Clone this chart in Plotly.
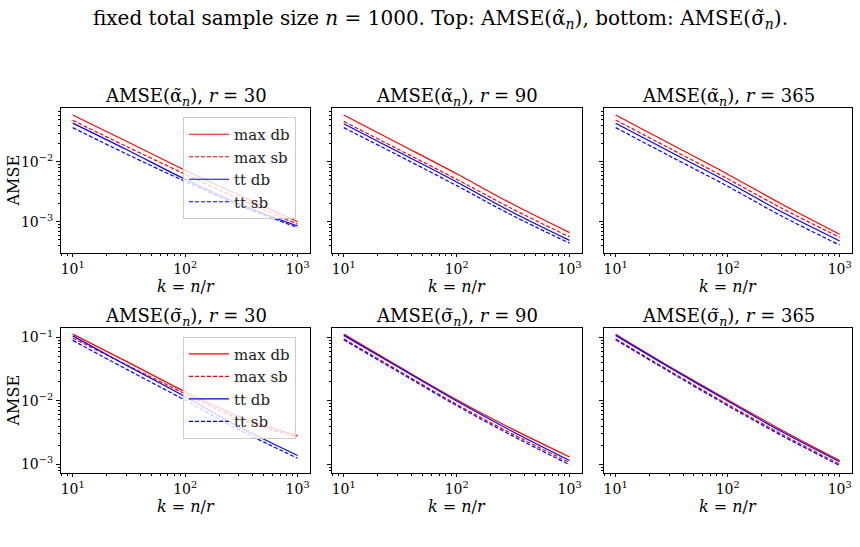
import plotly.graph_objects as go
from plotly.subplots import make_subplots

# k = n/r grid
k = [10, 30, 100, 300, 1000]

series_names = ["max db", "max sb", "tt db", "tt sb"]
colors = ["#ff0000", "#ff0000", "#0000ff", "#0000ff"]
dashes = ["solid", "4px,2px", "solid", "4px,2px"]

# AMSE(alpha~_n)
alpha_r30 = {
    "max db": [0.060, 0.022, 0.0072, 0.0028, 0.00100],
    "max sb": [0.049, 0.018, 0.0062, 0.0024, 0.00091],
    "tt db":  [0.044, 0.016, 0.0051, 0.0020, 0.00085],
    "tt sb":  [0.037, 0.0135, 0.0047, 0.0019, 0.00080],
}
alpha_r90 = {
    "max db": [0.060, 0.0205, 0.0063, 0.00205, 0.00066],
    "max sb": [0.047, 0.0163, 0.0051, 0.0017, 0.00056],
    "tt db":  [0.043, 0.0148, 0.0046, 0.0015, 0.00049],
    "tt sb":  [0.037, 0.0129, 0.0040, 0.00132, 0.00044],
}
alpha_r365 = {
    "max db": [0.060, 0.0203, 0.0062, 0.0020, 0.00062],
    "max sb": [0.0495, 0.0169, 0.0052, 0.0017, 0.00055],
    "tt db":  [0.0437, 0.0149, 0.0046, 0.00148, 0.00048],
    "tt sb":  [0.037, 0.0126, 0.0039, 0.00126, 0.00041],
}
# AMSE(sigma~_n)
sigma_r30 = {
    "max db": [0.113, 0.042, 0.0139, 0.0057, 0.0028],
    "max sb": [0.098, 0.037, 0.0129, 0.0052, 0.00267],
    "tt db":  [0.106, 0.0365, 0.0116, 0.0039, 0.00137],
    "tt sb":  [0.090, 0.0316, 0.0102, 0.0035, 0.00124],
}
sigma_r90 = {
    "max db": [0.113, 0.0357, 0.0104, 0.0037, 0.00130],
    "max sb": [0.0955, 0.0305, 0.0088, 0.0031, 0.00106],
    "tt db":  [0.108, 0.0345, 0.0099, 0.0034, 0.00114],
    "tt sb":  [0.092, 0.0292, 0.0084, 0.0029, 0.00098],
}
sigma_r365 = {
    "max db": [0.113, 0.0352, 0.0104, 0.0035, 0.00114],
    "max sb": [0.0955, 0.0300, 0.0088, 0.0030, 0.00100],
    "tt db":  [0.108, 0.0340, 0.0099, 0.0033, 0.00109],
    "tt sb":  [0.092, 0.0290, 0.0084, 0.00285, 0.00095],
}

x_tickvals = [10, 100, 1000]
x_ticktext = ["10<sup>1</sup>", "10<sup>2</sup>", "10<sup>3</sup>"]
y_tickvals = [1e-3, 1e-2, 1e-1]
y_ticktext = ["10<sup>−3</sup>", "10<sup>−2</sup>", "10<sup>−1</sup>"]

A = "α\u0303"
S = "σ\u0303"
panels = [
    (1, 1, alpha_r30, f"AMSE({A}<sub><i>n</i></sub>), <i>r</i> = 30", "legend"),
    (1, 2, alpha_r90, f"AMSE({A}<sub><i>n</i></sub>), <i>r</i> = 90", None),
    (1, 3, alpha_r365, f"AMSE({A}<sub><i>n</i></sub>), <i>r</i> = 365", None),
    (2, 1, sigma_r30, f"AMSE({S}<sub><i>n</i></sub>), <i>r</i> = 30", "legend2"),
    (2, 2, sigma_r90, f"AMSE({S}<sub><i>n</i></sub>), <i>r</i> = 90", None),
    (2, 3, sigma_r365, f"AMSE({S}<sub><i>n</i></sub>), <i>r</i> = 365", None),
]

FONT = "DejaVu Serif"
W, H = 860, 547

fig = make_subplots(rows=2, cols=3)

xdom = [(61, 310), (332, 582), (604, 852)]
ydom = [(108, 253), (328, 473)]

for (row, col, data, title, leg) in panels:
    for name, c, d in zip(series_names, colors, dashes):
        fig.add_trace(
            go.Scatter(
                x=k, y=data[name], mode="lines", name=name,
                line=dict(color=c, width=1.2, dash=d, shape="spline", smoothing=1),
                showlegend=leg is not None,
                legend=leg if leg else "legend",
            ),
            row=row, col=col,
        )
    x0, x1 = xdom[col - 1]
    y0, y1 = ydom[row - 1]
    fig.add_annotation(
        text=title, x=(x0 + x1) / 2 / W, y=1 - (y0 - 11) / H,
        xref="paper", yref="paper", showarrow=False,
        font=dict(family=FONT, size=18, color="black"),
        xanchor="center", yanchor="middle",
    )
    fig.add_annotation(
        text="<i>k</i> = <i>n</i>/<i>r</i>", x=(x0 + x1) / 2 / W, y=1 - (y1 + 33) / H,
        xref="paper", yref="paper", showarrow=False,
        font=dict(family=FONT, size=16, color="black"),
        xanchor="center", yanchor="middle",
    )

yranges = [(-3.52, -1.105), (-3.14, -0.85)]

minor_x = [m * 10 ** e for e in (0, 1, 2, 3) for m in range(2, 10)]
minor_y = [m * 10.0 ** e for e in (-4, -3, -2, -1) for m in range(2, 10)]

for row in (1, 2):
    for col in (1, 2, 3):
        x0, x1 = xdom[col - 1]
        y0, y1 = ydom[row - 1]
        fig.update_xaxes(
            type="log", range=[0.896, 3.11], domain=[x0 / W, x1 / W],
            showline=True, mirror=True, linecolor="black", linewidth=1,
            ticks="outside", ticklen=3, tickcolor="black",
            showgrid=False, zeroline=False,
            tickmode="array", tickvals=x_tickvals, ticktext=x_ticktext,
            minor=dict(ticks="outside", ticklen=2, tickcolor="black", showgrid=False,
                       tickmode="array", tickvals=minor_x),
            tickfont=dict(family=FONT, size=14, color="black"),
            row=row, col=col,
        )
        fig.update_yaxes(
            type="log", range=list(yranges[row - 1]), domain=[1 - y1 / H, 1 - y0 / H],
            showline=True, mirror=True, linecolor="black", linewidth=1,
            ticks="outside", ticklen=4, tickcolor="black",
            showgrid=False, zeroline=False,
            tickmode="array", tickvals=y_tickvals, ticktext=y_ticktext,
            showticklabels=(col == 1),
            minor=dict(ticks="outside", ticklen=2, tickcolor="black", showgrid=False,
                       tickmode="array", tickvals=minor_y),
            tickfont=dict(family=FONT, size=14, color="black"),
            row=row, col=col,
        )
        if col == 1:
            fig.add_annotation(
                text="AMSE", x=13 / W, y=1 - (y0 + y1) / 2 / H,
                xref="paper", yref="paper", showarrow=False, textangle=-90,
                font=dict(family=FONT, size=16, color="black"),
                xanchor="center", yanchor="middle",
            )

fig.add_annotation(
    text=f"fixed total sample size <i>n</i> = 1000. Top: AMSE({A}<sub><i>n</i></sub>), bottom: AMSE({S}<sub><i>n</i></sub>).",
    x=440 / W, y=1 - 19 / H, xref="paper", yref="paper", showarrow=False,
    font=dict(family=FONT, size=20, color="black"), xanchor="center", yanchor="middle",
)

leg_common = dict(
    bgcolor="rgba(255,255,255,0.8)", bordercolor="#cccccc", borderwidth=1,
    font=dict(family=FONT, size=15, color="#222222"),
    xanchor="left", yanchor="top", itemwidth=40,
)
fig.update_layout(
    width=W, height=H, margin=dict(l=0, r=0, t=0, b=0),
    plot_bgcolor="white", paper_bgcolor="white",
    legend=dict(x=183 / W, y=1 - 117 / H, **leg_common),
    legend2=dict(x=183 / W, y=1 - 336.7 / H, **leg_common),
)

fig.write_html("out.html")
